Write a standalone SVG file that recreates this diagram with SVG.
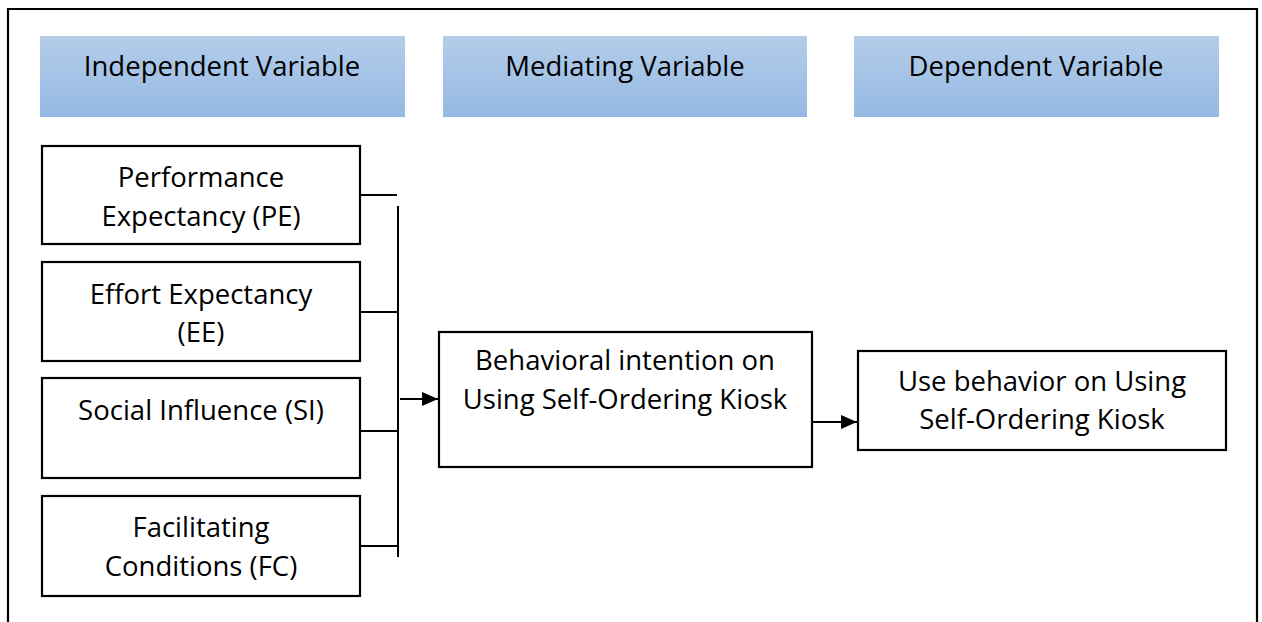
<svg xmlns="http://www.w3.org/2000/svg" width="1262" height="622" viewBox="0 0 1262 622">
  <defs>
    <linearGradient id="hdr" x1="0" y1="0" x2="0" y2="1">
      <stop offset="0" stop-color="#b4cde9"/>
      <stop offset="1" stop-color="#95b9e4"/>
    </linearGradient>
    <marker id="arrow" markerWidth="16" markerHeight="14" refX="16" refY="7" orient="auto" markerUnits="userSpaceOnUse">
      <path d="M0,0 L16,7 L0,14 Z" fill="#000"/>
    </marker>
    <style>
      .hdr { fill: url(#hdr); }
      .box { fill: #fff; stroke: #000; stroke-width: 2.2; }
      .lbl { font-family: "Open Sans", "Liberation Sans", sans-serif; font-size: 27.5px; fill: #000; text-anchor: middle; }
      .wire { stroke: #000; stroke-width: 2; fill: none; }
    </style>
  </defs>
  <rect width="1262" height="622" fill="#fff"/>
  <!-- outer frame, open at the bottom -->
  <path d="M8,622 L8,9 L1257,9 L1257,622" fill="none" stroke="#000" stroke-width="2.2"/>

  <g id="hdr-independent">
    <rect class="hdr" x="40" y="36" width="365" height="81"/>
    <text class="lbl" x="222" y="76">Independent Variable</text>
  </g>
  <g id="hdr-mediating">
    <rect class="hdr" x="443" y="36" width="364" height="81"/>
    <text class="lbl" x="625" y="76">Mediating Variable</text>
  </g>
  <g id="hdr-dependent">
    <rect class="hdr" x="854" y="36" width="365" height="81"/>
    <text class="lbl" x="1036" y="76">Dependent Variable</text>
  </g>

  <g id="pe">
    <rect class="box" x="42" y="146" width="318" height="98"/>
    <text class="lbl" x="201" y="187">Performance</text>
    <text class="lbl" x="201" y="226">Expectancy (PE)</text>
  </g>
  <g id="ee">
    <rect class="box" x="42" y="262" width="318" height="99"/>
    <text class="lbl" x="201" y="304">Effort Expectancy</text>
    <text class="lbl" x="201" y="342">(EE)</text>
  </g>
  <g id="si">
    <rect class="box" x="42" y="378" width="318" height="100"/>
    <text class="lbl" x="201" y="420">Social Influence (SI)</text>
  </g>
  <g id="fc">
    <rect class="box" x="42" y="496" width="318" height="100"/>
    <text class="lbl" x="201" y="537">Facilitating</text>
    <text class="lbl" x="201" y="576">Conditions (FC)</text>
  </g>

  <g id="bi">
    <rect class="box" x="439" y="332" width="373" height="135"/>
    <text class="lbl" x="625" y="370">Behavioral intention on</text>
    <text class="lbl" x="625" y="409">Using Self-Ordering Kiosk</text>
  </g>
  <g id="ub">
    <rect class="box" x="858" y="351" width="368" height="99"/>
    <text class="lbl" x="1042" y="391">Use behavior on Using</text>
    <text class="lbl" x="1042" y="429">Self-Ordering Kiosk</text>
  </g>

  <g id="connectors">
    <line class="wire" x1="360" y1="195" x2="397" y2="195"/>
    <line class="wire" x1="398" y1="206" x2="398" y2="557"/>
    <line class="wire" x1="360" y1="312" x2="398" y2="312"/>
    <line class="wire" x1="360" y1="431" x2="398" y2="431"/>
    <line class="wire" x1="360" y1="546" x2="398" y2="546"/>
    <line class="wire" x1="400" y1="399" x2="438" y2="399" marker-end="url(#arrow)"/>
    <line class="wire" x1="813" y1="422" x2="857" y2="422" marker-end="url(#arrow)"/>
  </g>
</svg>
